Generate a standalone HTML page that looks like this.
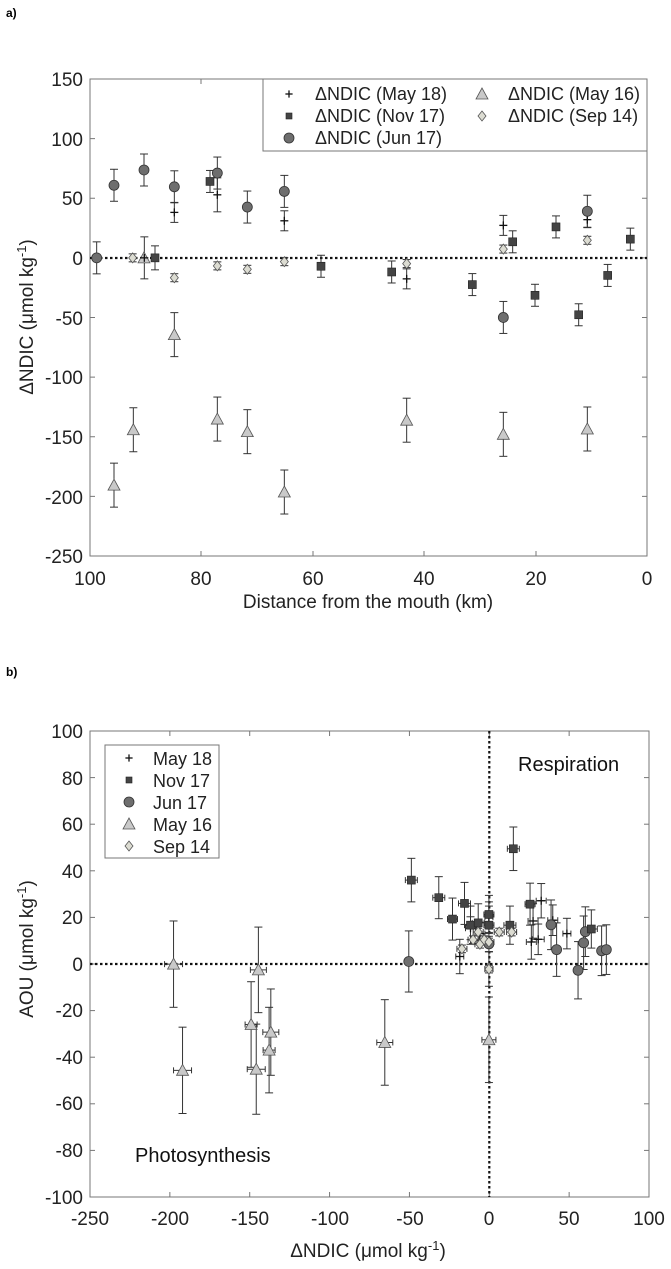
<!DOCTYPE html>
<html><head><meta charset="utf-8">
<style>
html,body{margin:0;padding:0;background:#fff;}
svg{display:block;font-family:"Liberation Sans",Arial,sans-serif;}
</style></head>
<body>
<svg id="s" width="671" height="1269" viewBox="0 0 671 1269" xmlns="http://www.w3.org/2000/svg">
<rect width="671" height="1269" fill="#fff"/>
<text x="6" y="17" font-size="12" font-weight="bold">a)</text>
<text x="6" y="676" font-size="12" font-weight="bold">b)</text>

<!-- Panel a axes -->
<g font-size="19" fill="#222" text-anchor="end">
<text x="83" y="86">150</text><text x="83" y="146">100</text><text x="83" y="205">50</text>
<text x="83" y="265">0</text><text x="83" y="325">-50</text><text x="83" y="384">-100</text>
<text x="83" y="444">-150</text><text x="83" y="504">-200</text><text x="83" y="563">-250</text>
</g>
<g font-size="19" fill="#222" text-anchor="middle">
<text x="90" y="585">100</text><text x="201" y="585">80</text><text x="313" y="585">60</text>
<text x="424" y="585">40</text><text x="536" y="585">20</text><text x="647" y="585">0</text>
<text x="368" y="608">Distance from the mouth (km)</text>
<text transform="translate(33,317) rotate(-90)">ΔNDIC (μmol kg<tspan dy="-7" font-size="13">-1</tspan><tspan dy="7">)</tspan></text>
</g>

<!-- Panel b axes -->
<g font-size="19" fill="#222" text-anchor="end">
<text x="83" y="738">100</text><text x="83" y="785">80</text><text x="83" y="831">60</text>
<text x="83" y="878">40</text><text x="83" y="924">20</text><text x="83" y="971">0</text>
<text x="83" y="1017">-20</text><text x="83" y="1064">-40</text><text x="83" y="1110">-60</text>
<text x="83" y="1157">-80</text><text x="83" y="1204">-100</text>
</g>
<g font-size="19" fill="#222" text-anchor="middle">
<text x="90" y="1225">-250</text><text x="170" y="1225">-200</text><text x="250" y="1225">-150</text>
<text x="330" y="1225">-100</text><text x="410" y="1225">-50</text><text x="489" y="1225">0</text>
<text x="569" y="1225">50</text><text x="649" y="1225">100</text>
<text x="368" y="1257">ΔNDIC (μmol kg<tspan dy="-7" font-size="13">-1</tspan><tspan dy="7">)</tspan></text>
<text transform="translate(33,949) rotate(-90)">AOU (μmol kg<tspan dy="-7" font-size="13">-1</tspan><tspan dy="7">)</tspan></text>
</g>
<text x="518" y="771" font-size="20" fill="#111">Respiration</text>
<text x="135" y="1162" font-size="20" fill="#111">Photosynthesis</text>

<g id="dyn"></g>

<!-- legend a -->
<rect x="263" y="79" width="384" height="72" fill="#fff" stroke="#777" stroke-width="1"/>
<g font-size="18" fill="#222">
<text x="315" y="100">ΔNDIC (May 18)</text>
<text x="315" y="122">ΔNDIC (Nov 17)</text>
<text x="315" y="144">ΔNDIC (Jun 17)</text>
<text x="508" y="100">ΔNDIC (May 16)</text>
<text x="508" y="122">ΔNDIC (Sep 14)</text>
</g>
<!-- legend b -->
<rect x="105" y="745" width="114" height="113" fill="#fff" stroke="#777" stroke-width="1"/>
<g font-size="18" fill="#222">
<text x="153" y="765">May 18</text>
<text x="153" y="787">Nov 17</text>
<text x="153" y="809">Jun 17</text>
<text x="153" y="831">May 16</text>
<text x="153" y="853">Sep 14</text>
</g>
<g id="leg"></g>
</svg>
<script>
var NS="http://www.w3.org/2000/svg";
var dyn=document.getElementById('dyn'), leg=document.getElementById('leg');
function el(p,t,a){var e=document.createElementNS(NS,t);for(var k in a)e.setAttribute(k,a[k]);p.appendChild(e);return e;}
function line(p,x1,y1,x2,y2,c,w,d){var a={x1:x1,y1:y1,x2:x2,y2:y2,stroke:c||'#333','stroke-width':w||1};if(d)a['stroke-dasharray']=d;el(p,'line',a);}
function marker(p,t,x,y,s){s=s||1;
 if(t=='c')el(p,'circle',{cx:x,cy:y,r:5*s,fill:'#6e6e6e',stroke:'#333','stroke-width':0.8});
 else if(t=='s')el(p,'rect',{x:x-4*s,y:y-4*s,width:8*s,height:8*s,fill:'#444',stroke:'#222','stroke-width':0.6});
 else if(t=='t')el(p,'polygon',{points:(x)+','+(y-6*s)+' '+(x-6*s)+','+(y+5*s)+' '+(x+6*s)+','+(y+5*s),fill:'#c9c9c9',stroke:'#555','stroke-width':0.8});
 else if(t=='d')el(p,'polygon',{points:x+','+(y-5*s)+' '+(x+4*s)+','+y+' '+x+','+(y+5*s)+' '+(x-4*s)+','+y,fill:'#dcdcd2',stroke:'#555','stroke-width':0.8});
 else if(t=='p'){line(p,x-4*s,y,x+4*s,y,'#111',1.3);line(p,x,y-4*s,x,y+4*s,'#111',1.3);}
}
function ebar(p,x,y,ey,ex){ if(ey){line(p,x,y-ey,x,y+ey,'#333',1);line(p,x-4,y-ey,x+4,y-ey,'#333',1);line(p,x-4,y+ey,x+4,y+ey,'#333',1);}
 if(ex){line(p,x-ex,y,x+ex,y,'#333',1);line(p,x-ex,y-3,x-ex,y+3,'#333',1);line(p,x+ex,y-3,x+ex,y+3,'#333',1);} }
var A={l:90,r:647,t:79,b:556};
el(dyn,'rect',{x:A.l,y:A.t,width:A.r-A.l,height:A.b-A.t,fill:'none',stroke:'#777','stroke-width':1});
[201,313,424,536].forEach(function(x){line(dyn,x,A.b,x,A.b-5,'#777');line(dyn,x,A.t,x,A.t+5,'#777');});
for(var i=1;i<8;i++){var y=A.t+i*(A.b-A.t)/8;line(dyn,A.l,y,A.l+5,y,'#777');line(dyn,A.r,y,A.r-5,y,'#777');}
line(dyn,A.l,258,A.r,258,'#111',2.2,'2.5,2.5');
function za(xz,yz,o){return [(o||0)+xz/3, yz*0.382];}
var pa=[
 ['t',342,1270,0,22],['t',400,1125,0,22],['t',432,675,0,0],['t',523,876,0,22],['t',652,1097,0,22],['t',742,1130,0,22],['t',853,1288,0,22],
 ['t',230,1100,330,22],['t',520,1137,330,22],['t',772,1123,330,22],
 ['p',433,675,0,21],['p',523,556,0,10],['p',652,510,0,17],['p',853,578,0,10],['p',230,730,330,10],['p',520,590,330,10],['p',772,575,330,8],
 ['c',290,675,0,16],['c',342,485,0,16],['c',432,445,0,16],['c',523,489,0,16],['c',652,453,0,16],['c',742,542,0,16],['c',853,501,0,16],['c',520,831,330,16],['c',772,553,330,16],
 ['s',465,675,0,12],['s',630,475,0,11],['s',963,697,0,11],['s',185,712,330,11],['s',427,745,330,11],['s',548,633,330,11],['s',615,773,330,11],['s',678,594,330,11],['s',746,824,330,11],['s',833,721,330,11],['s',901,626,330,11],
 ['d',398,675,0,4],['d',523,727,0,4],['d',652,696,0,4],['d',742,705,0,4],['d',853,685,0,4],['d',230,690,330,4],['d',520,652,330,4],['d',772,629,330,4]
];
pa.forEach(function(d){var p=za(d[1],d[2],d[3]);ebar(dyn,p[0],p[1],d[4],0);});
pa.forEach(function(d){var p=za(d[1],d[2],d[3]);marker(dyn,d[0],p[0],p[1]);});
var B={l:90,r:649,t:731,b:1197};
el(dyn,'rect',{x:B.l,y:B.t,width:B.r-B.l,height:B.b-B.t,fill:'none',stroke:'#777','stroke-width':1});
for(var i=1;i<7;i++){var x=B.l+i*(B.r-B.l)/7;line(dyn,x,B.b,x,B.b-5,'#777');line(dyn,x,B.t,x,B.t+5,'#777');}
for(var i=1;i<10;i++){var y=B.t+i*(B.b-B.t)/10;line(dyn,B.l,y,B.l+5,y,'#777');line(dyn,B.r,y,B.r-5,y,'#777');}
line(dyn,B.l,964,B.r,964,'#111',2.2,'2.5,2.5');
line(dyn,489.3,B.t,489.3,B.b,'#111',2.2,'2.5,2.5');
function zb(xz,yz){return [xz*0.4285, 670+yz*0.382];}
var pb=[
 ['t',405,770,113,9],['t',426,1048,113,9],['t',586,928,112,6],['t',598,1045,118,9],['t',603,785,112,8],['t',632,948,113,8],['t',628,995,112,6],['t',898,975,112,8],['t',1141,968,112,7],
 ['p',1073,750,45,4],['p',1141,647,40,4],['p',1244,657,45,5],['p',1240,712,45,5],['p',1256,705,40,6],['p',1263,604,45,5],['p',1323,690,40,4],['p',1141,783,45,4],['p',1120,690,30,5],['p',1098,676,30,5],['p',1290,655,40,5],
 ['c',954,763,80,0],['c',1286,667,65,0],['c',1299,732,70,0],['c',1349,786,75,0],['c',1362,714,70,0],['c',1366,685,65,0],['c',1404,735,65,0],['c',1415,732,65,0],['c',1141,717,20,0],
 ['s',960,550,57,6],['s',1024,596,55,6],['s',1056,652,55,5],['s',1084,611,55,6],['s',1098,668,50,6],['s',1116,662,50,6],['s',1141,668,50,5],['s',1141,640,50,5],['s',1190,668,50,6],['s',1198,468,57,6],['s',1237,613,55,5],['s',1380,678,50,6],
 ['d',1078,730,10,5],['d',1104,706,10,5],['d',1116,686,10,5],['d',1120,718,10,5],['d',1130,706,10,5],['d',1141,712,10,5],['d',1165,686,10,5],['d',1194,686,10,5],['d',1141,783,10,4]
];
pb.forEach(function(d){var p=zb(d[1],d[2]);ebar(dyn,p[0],p[1],d[3]*0.382,d[4]);});
pb.forEach(function(d){var p=zb(d[1],d[2]);marker(dyn,d[0],p[0],p[1]);});
marker(leg,'p',289,94,0.9);marker(leg,'s',289,116,0.75);marker(leg,'c',289,138,1);
marker(leg,'t',482,94,1);marker(leg,'d',482,116,1);
marker(leg,'p',129,758,0.9);marker(leg,'s',129,780,0.75);marker(leg,'c',129,802,1);marker(leg,'t',129,824,1);marker(leg,'d',129,846,1);
</script>
</body></html>
